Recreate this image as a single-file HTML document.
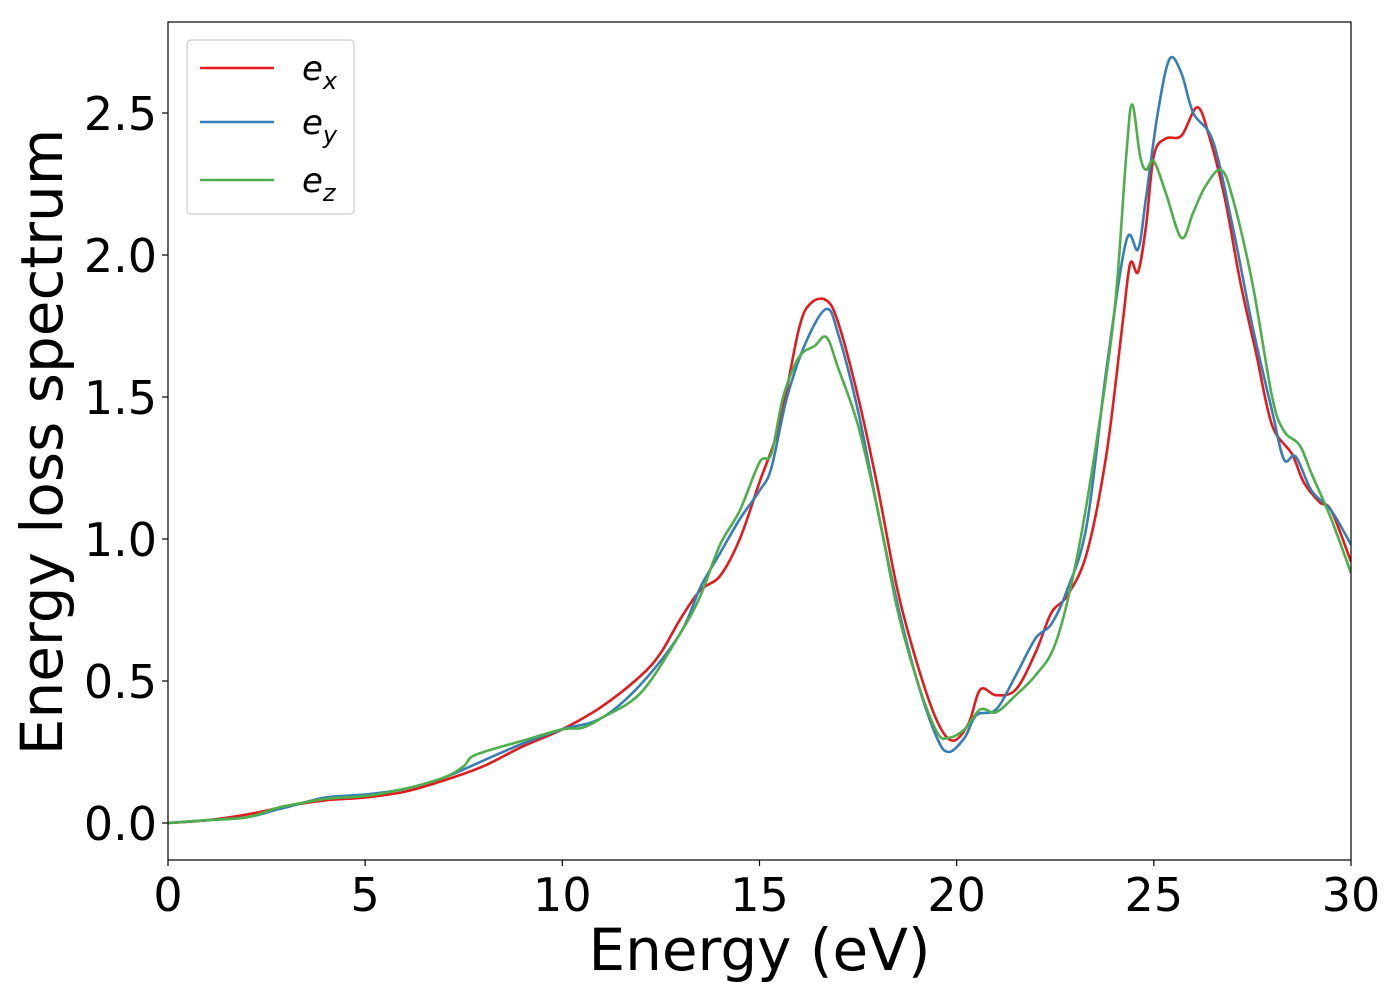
<!DOCTYPE html>
<html><head><meta charset="utf-8"><style>
html,body{margin:0;padding:0;background:#fff;}
svg{display:block;font-family:"DejaVu Sans","Liberation Sans",sans-serif;}
</style></head><body>
<svg id="chart" width="1400" height="1000"></svg>
<script>
const xTicks=[0,5,10,15,20,25,30];
const yTicks=[0.0,0.5,1.0,1.5,2.0,2.5];
const yTickLabels=["0.0","0.5","1.0","1.5","2.0","2.5"];
const seriesNames=["e_x","e_y","e_z"];
const exX=[0,1,2,2.7,3,4,5,6,7,8,9,10,11,12,12.5,13,13.5,14,14.5,15,15.5,16,16.3,16.7,17,17.5,18,18.5,19,19.5,19.9,20.3,20.6,21,21.5,22,22.4,22.8,23.3,23.8,24.2,24.4,24.6,24.8,25,25.3,25.7,26.1,26.4,26.8,27.2,27.6,28,28.5,28.8,29.2,29.5,30];
const exY=[0,0.01,0.03,0.05,0.06,0.08,0.09,0.11,0.15,0.2,0.27,0.33,0.41,0.52,0.6,0.72,0.82,0.87,1.0,1.2,1.4,1.74,1.83,1.84,1.76,1.5,1.18,0.82,0.56,0.36,0.29,0.35,0.47,0.45,0.47,0.6,0.74,0.8,0.95,1.3,1.75,1.97,1.94,2.1,2.35,2.41,2.42,2.52,2.42,2.2,1.9,1.65,1.4,1.3,1.2,1.13,1.1,0.92];
const eyX=[0,1,2,2.7,3,4,5,6,7,8,9,10,11,12,13,13.5,14,14.5,15,15.3,15.7,16.2,16.7,17,17.5,18,18.5,19,19.5,19.8,20.2,20.5,21,21.5,22,22.4,22.8,23.3,23.8,24.3,24.6,24.8,25.1,25.4,25.7,26,26.5,27,27.5,28,28.3,28.6,29,29.5,30];
const eyY=[0,0.01,0.02,0.045,0.055,0.09,0.1,0.12,0.16,0.22,0.28,0.33,0.37,0.49,0.67,0.83,0.95,1.07,1.17,1.25,1.5,1.7,1.81,1.72,1.45,1.1,0.77,0.5,0.3,0.25,0.3,0.38,0.4,0.52,0.65,0.7,0.82,1.05,1.6,2.05,2.02,2.2,2.5,2.69,2.64,2.5,2.4,2.1,1.75,1.45,1.28,1.29,1.17,1.1,0.98];
const ezX=[0,1,2,2.7,3,4,5,6,7,7.5,7.8,9,10,10.5,11,12,13,13.5,14,14.5,15,15.3,15.6,16,16.4,16.7,17,17.5,18,18.5,19,19.5,19.8,20.2,20.6,21,21.5,22,22.5,23,23.5,24,24.3,24.45,24.65,24.8,25,25.3,25.7,26,26.3,26.7,27,27.5,28,28.3,28.7,29,29.5,30];
const ezY=[0,0.01,0.02,0.05,0.06,0.085,0.095,0.12,0.16,0.2,0.24,0.29,0.33,0.335,0.37,0.46,0.67,0.8,0.98,1.1,1.27,1.3,1.5,1.64,1.68,1.71,1.6,1.4,1.1,0.75,0.5,0.32,0.3,0.33,0.4,0.39,0.45,0.52,0.63,0.9,1.3,1.8,2.35,2.53,2.35,2.3,2.33,2.22,2.06,2.15,2.24,2.3,2.2,1.9,1.5,1.38,1.33,1.23,1.07,0.88];
const colors=["#e41a1c","#377eb8","#4daf4a"];

const NS="http://www.w3.org/2000/svg";
const svg=document.getElementById('chart');
const L=168,R=1351,T=22,B=860;
const xs=v=>L+(v-0)/30*(R-L);
const ys=v=>823-v*284;
function mk(tag,attrs,parent){const e=document.createElementNS(NS,tag);for(const k in attrs)e.setAttribute(k,attrs[k]);(parent||svg).appendChild(e);return e;}

const clip=mk('clipPath',{id:'pc'});mk('rect',{x:L,y:T,width:R-L,height:B-T},clip);

function pathFor(X,Y){
  const p=X.map((x,i)=>[xs(x),ys(Y[i])]);
  let d=`M${p[0][0]},${p[0][1]}`;
  for(let i=0;i<p.length-1;i++){
    const p0=p[Math.max(0,i-1)],p1=p[i],p2=p[i+1],p3=p[Math.min(p.length-1,i+2)];
    const c1=[p1[0]+(p2[0]-p0[0])/6,p1[1]+(p2[1]-p0[1])/6];
    const c2=[p2[0]-(p3[0]-p1[0])/6,p2[1]-(p3[1]-p1[1])/6];
    d+=` C${c1[0]},${c1[1]} ${c2[0]},${c2[1]} ${p2[0]},${p2[1]}`;
  }
  return d;
}
const data=[[exX,exY],[eyX,eyY],[ezX,ezY]];
const g=mk('g',{'clip-path':'url(#pc)'});


data.forEach((s,i)=>{
  const p=mk('path',{d:pathFor(s[0],s[1]),fill:'none',stroke:colors[i],'stroke-width':2.6},g);
  
  
});
const frame=mk('rect',{x:L,y:T,width:R-L,height:B-T,fill:'none',stroke:'#000','stroke-width':1.2});



xTicks.forEach(v=>{
  mk('line',{x1:xs(v),x2:xs(v),y1:B,y2:B+6,stroke:'#000','stroke-width':1.2});
  const t=mk('text',{x:xs(v),y:B+51,'font-size':46,'text-anchor':'middle',fill:'#000'});
  t.textContent=String(v);
  
  
});
yTicks.forEach((v,i)=>{
  mk('line',{x1:L-6,x2:L,y1:ys(v),y2:ys(v),stroke:'#000','stroke-width':1.2});
  const t=mk('text',{x:L-11,y:ys(v)+17,'font-size':46,'text-anchor':'end',fill:'#000'});
  t.textContent=yTickLabels[i];
  
  
});
const xl=mk('text',{x:(L+R)/2,y:970,'font-size':58,'text-anchor':'middle',fill:'#000'});
xl.textContent='Energy (eV)';


const yl=mk('text',{x:0,y:0,'font-size':58,'text-anchor':'middle',fill:'#000',transform:'translate(62,442) rotate(-90)'});
yl.textContent='Energy loss spectrum';



const lg=mk('g',{});


mk('rect',{x:187,y:40,width:167,height:174,rx:4,fill:'#fff',stroke:'#ccc','stroke-width':1.2},lg);
const subs=['x','y','z'];
[68,122,180].forEach((yy,i)=>{
  const ln=mk('line',{x1:200,x2:274,y1:yy,y2:yy,stroke:colors[i],'stroke-width':2.6},lg);
  
  
  const t=mk('text',{x:302,y:yy+12,'font-size':34,'font-style':'italic',fill:'#000'},lg);
  
  
  const a=mk('tspan',{},t);a.textContent='e';
  const b=mk('tspan',{dy:9,'font-size':24},t);b.textContent=subs[i];
});
</script>
</body></html>
